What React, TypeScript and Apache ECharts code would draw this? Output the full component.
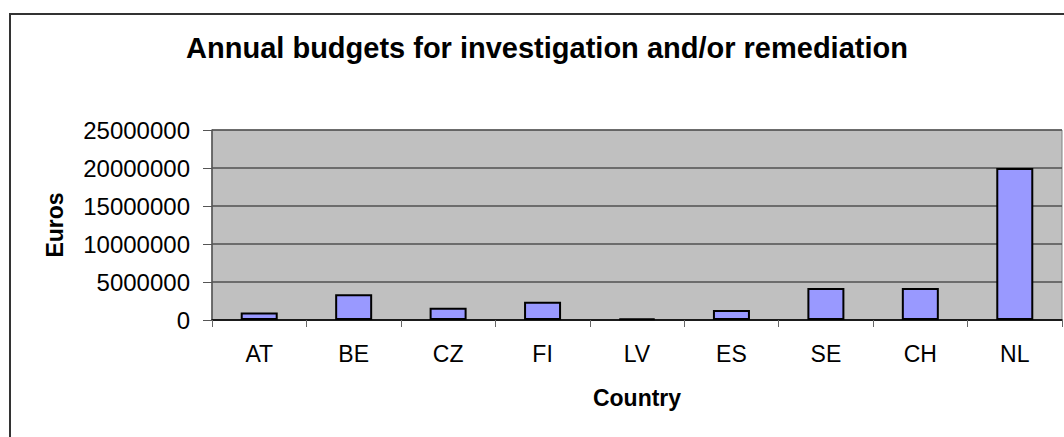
import React, { useEffect, useRef } from "react";
import * as echarts from "echarts";

const categories = ["AT", "BE", "CZ", "FI", "LV", "ES", "SE", "CH", "NL"];
const budgets = [1000000, 3400000, 1600000, 2400000, 200000, 1300000, 4200000, 4200000, 20000000];
const titleText = "Annual budgets for investigation and/or remediation";
const yName = "Euros";
const xName = "Country";

const FONT = '"Liberation Sans", Arial, sans-serif';

export default function App() {
  const ref = useRef<HTMLDivElement>(null);
  useEffect(() => {
    document.body.style.margin = "0";
    if (!ref.current) return;
    const chart = echarts.init(ref.current, null, { renderer: "svg" });
    chart.setOption({
      animation: false,
      backgroundColor: "#ffffff",
      textStyle: { fontFamily: FONT },
      graphic: [
        {
          type: "rect",
          shape: { x: 10, y: 14, width: 1200, height: 600 },
          style: { fill: "none", stroke: "#333333", lineWidth: 2 },
          silent: true,
        },
        {
          type: "rect",
          shape: { x: 212, y: 130, width: 850, height: 190 },
          style: { fill: "#C0C0C0", stroke: "#808080", lineWidth: 1 },
          z: -1,
          silent: true,
        },
        {
          type: "text",
          x: 547,
          y: 48,
          style: {
            text: titleText,
            fontFamily: FONT,
            fontSize: 29,
            fontWeight: "bold",
            fill: "#000",
            textAlign: "center",
            textVerticalAlign: "middle",
          },
        },
      ],
      grid: { left: 212, right: 2, top: 130, bottom: 117, containLabel: false },
      xAxis: {
        type: "category",
        data: categories,
        name: xName,
        nameLocation: "middle",
        nameGap: 66,
        nameTextStyle: { fontFamily: FONT, fontSize: 23, fontWeight: "bold", color: "#000" },
        axisLine: { show: true, lineStyle: { color: "#000", width: 1.5 } },
        axisTick: { show: true, length: 7, lineStyle: { color: "#666" } },
        axisLabel: { fontFamily: FONT, fontSize: 23, color: "#000", margin: 22 },
        splitLine: { show: false },
      },
      yAxis: {
        type: "value",
        min: 0,
        max: 25000000,
        interval: 5000000,
        name: yName,
        nameLocation: "middle",
        nameGap: 146,
        nameRotate: 90,
        nameTextStyle: { fontFamily: FONT, fontSize: 23, fontWeight: "bold", color: "#000" },
        axisLine: { show: true, lineStyle: { color: "#555", width: 1.5 } },
        axisTick: { show: true, length: 9, lineStyle: { color: "#555" } },
        axisLabel: {
          fontFamily: FONT,
          fontSize: 24,
          color: "#000",
          margin: 22,
          formatter: (v: number) => String(v),
        },
        splitLine: { show: true, lineStyle: { color: "#505050", width: 1.5 } },
      },
      series: [
        {
          type: "bar",
          data: budgets,
          barWidth: 37,
          itemStyle: { color: "#9999FF", borderColor: "#000", borderWidth: 2 },
        },
      ],
    });
    return () => chart.dispose();
  }, []);
  return <div ref={ref} style={{ width: 1064, height: 437 }} />;
}
